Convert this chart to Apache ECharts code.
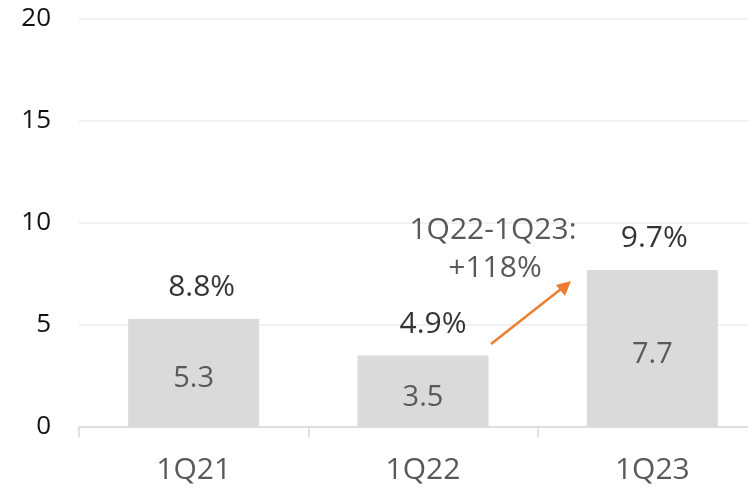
<!DOCTYPE html>
<html>
<head>
<meta charset="utf-8">
<script src="https://cdn.jsdelivr.net/npm/echarts@6/dist/echarts.min.js"></script>
<style>
  html, body { margin: 0; padding: 0; background: #fff; }
  #chart { width: 748px; height: 494px; }
</style>
</head>
<body>
<div id="chart"></div>
<script>
// data
var quarters = ["1Q21", "1Q22", "1Q23"];
var values = [5.3, 3.5, 7.7];
var shares = ["8.8%", "4.9%", "9.7%"];
var yTicks = [0, 5, 10, 15, 20];
var note = ["1Q22-1Q23:", "+118%"];

// small horizontal nudges of the share labels, as placed in the original
var shareShift = [8, 10, 2];

var font = "'Open Sans', 'Noto Sans', sans-serif";
var chart = echarts.init(document.getElementById("chart"), null, { renderer: "canvas" });

var option = {
    animation: false,
    // plot runs past the right edge, last category is cut off like the original
    grid: { left: 79, top: 19, width: 688, bottom: 67, outerBoundsMode: "none", containLabel: false },
    xAxis: {
        type: "category",
        data: quarters,
        axisLine: { lineStyle: { color: "#d9d9d9", width: 1.5 } },
        axisTick: { show: true, length: 10, lineStyle: { color: "#d9d9d9", width: 1.5 } },
        axisLabel: { color: "#595959", fontSize: 30, fontFamily: font, margin: 28 }
    },
    yAxis: {
        type: "value",
        min: yTicks[0],
        max: yTicks[yTicks.length - 1],
        interval: 5,
        axisLine: { show: false },
        axisTick: { show: false },
        splitLine: { lineStyle: { color: "#ececec", width: 1.5 } },
        axisLabel: { color: "#111", fontSize: 26, fontFamily: font, margin: 28 }
    },
    series: [
        {
            type: "bar",
            data: values,
            barWidth: 131,
            itemStyle: { color: "#dadada" },
            label: {
                show: true,
                position: "inside",
                color: "#595959",
                fontSize: 29,
                fontFamily: font,
                offset: [0, 6]
            }
        },
        {
            // share labels sitting on the bar tops
            type: "scatter",
            data: values.map(function (v, i) {
                return { value: v, label: { offset: [shareShift[i], 0] } };
            }),
            symbolSize: 0,
            label: {
                show: true,
                position: "top",
                distance: 16,
                color: "#000",
                fontSize: 30,
                fontFamily: font,
                formatter: function (p) { return shares[p.dataIndex]; }
            }
        }
    ],
    graphic: [
        {
            type: "text",
            z: 100,
            x: 493, y: 230,
            style: { text: note[0], fill: "#595959", font: "30px " + font, textAlign: "center", textVerticalAlign: "middle" }
        },
        {
            type: "text",
            z: 100,
            x: 495, y: 268,
            style: { text: note[1], fill: "#595959", font: "30px " + font, textAlign: "center", textVerticalAlign: "middle" }
        },
        {
            type: "line",
            z: 100,
            shape: { x1: 491, y1: 344, x2: 561, y2: 289 },
            style: { stroke: "#ed7d31", lineWidth: 2.5 }
        },
        {
            type: "polygon",
            z: 100,
            shape: { points: [[571, 281], [565, 296], [556, 285]] },
            style: { fill: "#ed7d31" }
        }
    ]
};

chart.setOption(option);
</script>
</body>
</html>
